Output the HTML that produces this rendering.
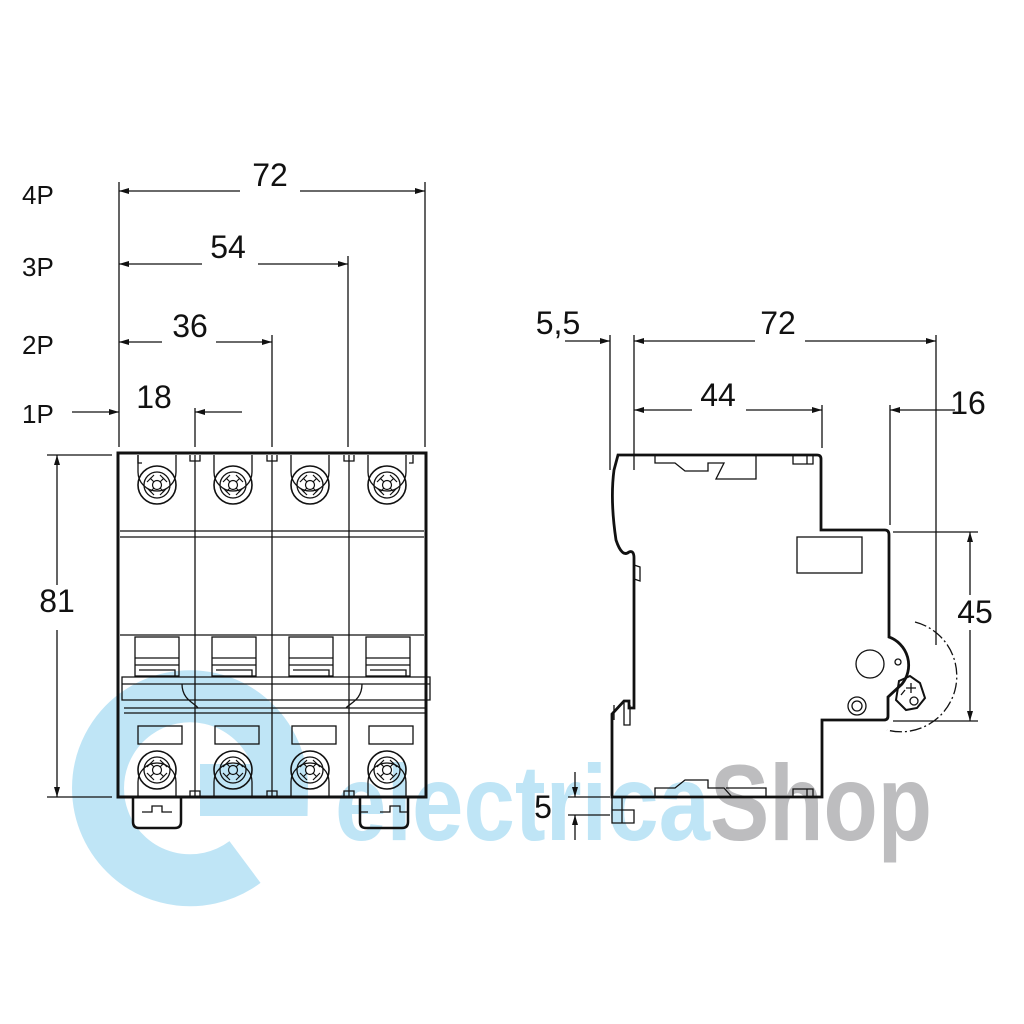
<!DOCTYPE html>
<html><head><meta charset="utf-8"><style>html,body{margin:0;padding:0;background:#fff}svg{display:block}</style></head><body>
<svg width="1024" height="1024" viewBox="0 0 1024 1024" xmlns="http://www.w3.org/2000/svg" font-family="Liberation Sans, Arial, sans-serif">
<defs>
<marker id="a" viewBox="0 0 10 6" refX="10" refY="3" markerWidth="14" markerHeight="6" markerUnits="userSpaceOnUse" orient="auto-start-reverse"><path d="M0,0L10,3L0,6z" fill="#111"/></marker>
<g id="scr"><circle r="19" fill="none" stroke="#111" stroke-width="1.6"/><circle r="13" fill="none" stroke="#111" stroke-width="1.3"/><circle r="4.5" fill="none" stroke="#111" stroke-width="1.2"/><path d="M-10,-3L-3,-10M3,10L10,3M-10,3L-3,10M3,-10L10,-3M-7,-7L-3,-3M7,7L3,3M-7,7L-3,3M7,-7L3,-3" stroke="#111" stroke-width="1.2"/></g>
</defs>
<rect width="1024" height="1024" fill="#fff"/>
<g>
<path d="M245,862 A92,92 0 1 1 282,790 L200,790" fill="none" stroke="#bfe5f6" stroke-width="52"/>
<text x="335" y="840" font-size="108" font-weight="bold" fill="#bfe5f6" textLength="375" lengthAdjust="spacingAndGlyphs">electrica</text>
<text x="710" y="840" font-size="108" font-weight="bold" fill="#bdbdbf" textLength="222" lengthAdjust="spacingAndGlyphs">Shop</text>
</g>
<g stroke="#111" stroke-width="1.3" fill="none">
<path d="M119,182V447M195,408V447M272,335V447M348,256V447M425,182V447"/>
<path d="M240,191H119" marker-end="url(#a)"/><path d="M300,191H425" marker-end="url(#a)"/>
<path d="M258,264H348" marker-end="url(#a)"/><path d="M202,264H119" marker-end="url(#a)"/>
<path d="M216,342H272" marker-end="url(#a)"/><path d="M162,342H119" marker-end="url(#a)"/>
<path d="M72,412H119" marker-end="url(#a)"/><path d="M242,412H195" marker-end="url(#a)"/>
<path d="M47,455H112M47,797H112"/>
<path d="M57,585V455" marker-end="url(#a)"/><path d="M57,630V797" marker-end="url(#a)"/>
<rect x="118" y="453" width="308" height="344" stroke-width="3"/>
<path d="M195,455V797M272,455V797M349,455V797"/>
<path d="M120,531H424M120,537H424M120,635H424"/>
<g id="tg"><rect x="135" y="637" width="44" height="39"/><path d="M135,658H179M135,665H179M139,670H175V676"/></g>
<use href="#tg" x="77"/><use href="#tg" x="154"/><use href="#tg" x="231"/>
<path d="M122,677H430V700H122Z M122,684H430 M182,684 C182,700 195,703 198,708 H346 C350,703 362,700 362,684 M124,708H426M124,713H426" />
<rect x="138" y="726" width="44" height="18"/><rect x="215" y="726" width="44" height="18"/><rect x="292" y="726" width="44" height="18"/><rect x="369" y="726" width="44" height="18"/>
<path d="M190,455v6h10v-6M267,455v6h10v-6M344,455v6h10v-6M190,797v-6h10v6M267,797v-6h10v6M344,797v-6h10v6"/>
<path d="M138,455v8h4M413,455v8h-4"/>
<path d="M138,455V472A19,19 0 0 0 176,472V455 M214,455V472A19,19 0 0 0 252,472V455 M291,455V472A19,19 0 0 0 329,472V455 M368,455V472A19,19 0 0 0 406,472V455"/>
<path d="M138,797V782A19,19 0 1 1 176,782V797 M214,797V782A19,19 0 1 1 252,782V797 M291,797V782A19,19 0 1 1 329,782V797 M368,797V782A19,19 0 1 1 406,782V797"/>
<path d="M133,797V822Q133,828 139,828H175Q181,828 181,822V797" stroke-width="2.5"/>
<path d="M360,797V822Q360,828 366,828H402Q408,828 408,822V797" stroke-width="2.5"/>
<path d="M142,812h10v-6h10v6h10M360,812h8M380,812h10v-6h10v6h8"/>
</g>
<use href="#scr" x="157" y="485"/><use href="#scr" x="233" y="485"/><use href="#scr" x="310" y="485"/><use href="#scr" x="387" y="485"/>
<use href="#scr" x="157" y="770"/><use href="#scr" x="233" y="770"/><use href="#scr" x="310" y="770"/><use href="#scr" x="387" y="770"/>
<g stroke="#111" stroke-width="1.3" fill="none">
<path d="M610,335V470M634,335V470M822,405V448M890,405V525M936,335V645"/>
<path d="M565,341H610" marker-end="url(#a)"/>
<path d="M755,341H634" marker-end="url(#a)"/><path d="M805,341H936" marker-end="url(#a)"/>
<path d="M692,410H634" marker-end="url(#a)"/><path d="M746,410H822" marker-end="url(#a)"/>
<path d="M955,410H890" marker-end="url(#a)"/>
<path d="M893,532H978M893,721H978"/>
<path d="M970,595V532" marker-end="url(#a)"/><path d="M970,630V721" marker-end="url(#a)"/>
<path d="M568,797H610M568,815H610"/>
<path d="M575,772V797" marker-end="url(#a)"/><path d="M575,840V815" marker-end="url(#a)"/>
<path d="M618,455H817Q821,455 821,459V530H885Q889,530 889,535V637 A30,30 0 0 1 902,684 L888,697 V716 Q888,720 884,720 H822V797H612V714L624,701H629 V708H634 V558Q634,550 629,552 Q622,558 616,540 Q610,500 614,470Z" stroke-width="2.8"/>
<path d="M614,705V720M624,700V725H630V705M634,565l6,2v14l-6,-2"/>
<path d="M655,455v8h20l10,8h23v-8h16l-8,16h40v-24M793,455v9h20v-9M807,464v-9"/>
<path d="M655,797v-9h20l10,-8h23v8h16l8,9M726,788h40v9M793,797v-8h20v8M807,789v8"/>
<path d="M612,797V823H634V810H612M622,797V823"/>
<rect x="797" y="537" width="65" height="36"/>
<circle cx="870" cy="664" r="14"/><circle cx="898" cy="662" r="3"/>
<circle cx="857" cy="706" r="9"/><circle cx="857" cy="706" r="5"/>
<path d="M899,681L910,676L920,683L925,698L917,708L906,710L896,700Z" stroke-width="2"/>
<path d="M906,688h10M911,683v10M905,690l-4,5"/><circle cx="914" cy="701" r="4"/>
<path d="M915,622 A55,55 0 0 1 887,730" stroke-dasharray="12,3,2,3"/>
</g>
<g fill="#111" font-size="32">
<text x="270" y="186" text-anchor="middle">72</text>
<text x="228" y="258" text-anchor="middle">54</text>
<text x="190" y="337" text-anchor="middle">36</text>
<text x="154" y="408" text-anchor="middle">18</text>
<text x="57" y="612" text-anchor="middle">81</text>
<text x="558" y="334" text-anchor="middle">5,5</text>
<text x="778" y="334" text-anchor="middle">72</text>
<text x="718" y="406" text-anchor="middle">44</text>
<text x="968" y="414" text-anchor="middle">16</text>
<text x="975" y="623" text-anchor="middle">45</text>
<text x="543" y="818" text-anchor="middle">5</text>
</g>
<g fill="#111" font-size="26">
<text x="22" y="204">4P</text><text x="22" y="276">3P</text><text x="22" y="354">2P</text><text x="22" y="423">1P</text>
</g>
</svg>
</body></html>
